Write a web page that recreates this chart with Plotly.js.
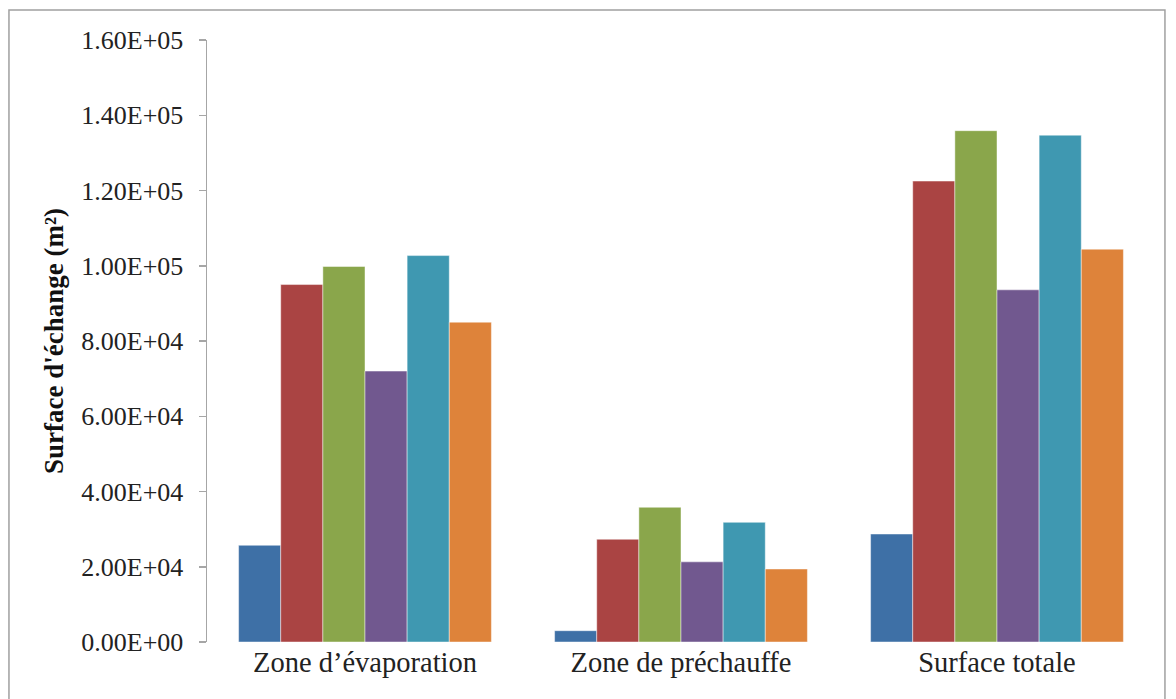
<!DOCTYPE html>
<html>
<head>
<meta charset="utf-8">
<script src="https://cdn.plot.ly/plotly-3.0.1.min.js"></script>
<style>html,body{margin:0;padding:0;background:#fff;}#chart{width:1176px;height:699px;}</style>
</head>
<body>
<div id="chart"></div>
<script>
const categories = ["Zone d\u2019évaporation", "Zone de préchauffe", "Surface totale"];
const seriesNames = ["Série 1", "Série 2", "Série 3", "Série 4", "Série 5", "Série 6"];
const s1 = [25700, 3000, 28700];
const s2 = [95000, 27300, 122500];
const s3 = [99800, 35800, 135900];
const s4 = [72000, 21300, 93600];
const s5 = [102700, 31800, 134700];
const s6 = [85000, 19400, 104400];
const tickVals = [0, 20000, 40000, 60000, 80000, 100000, 120000, 140000, 160000];
const tickText = ["0.00E+00", "2.00E+04", "4.00E+04", "6.00E+04", "8.00E+04", "1.00E+05", "1.20E+05", "1.40E+05", "1.60E+05"];
const colors = ["#3E70A6", "#AA4443", "#8AA64B", "#71588F", "#3F98B1", "#DE833A"];

const allSeries = [s1, s2, s3, s4, s5, s6];
const traces = allSeries.map((vals, i) => ({
  type: "bar",
  name: seriesNames[i],
  x: categories,
  y: vals,
  marker: {color: colors[i], line: {color: "rgba(255,255,255,0.45)", width: 1}},
  showlegend: false,
  hoverinfo: "y"
}));

const serif = "'Liberation Serif', 'Times New Roman', serif";
const layout = {
  width: 1176, height: 699,
  margin: {l: 207, r: 21, t: 40, b: 57},
  paper_bgcolor: "#fff", plot_bgcolor: "#fff",
  barmode: "group", bargap: 0.2, bargroupgap: 0,
  xaxis: {
    type: "category",
    showline: false, showgrid: false, zeroline: false, ticks: "",
    tickfont: {family: serif, size: 28.5, color: "#222"}
  },
  yaxis: {
    range: [0, 160000],
    tickvals: tickVals, ticktext: tickText,
    showgrid: false, zeroline: false,
    showline: true, linecolor: "#A6A6A6", linewidth: 1.5,
    ticks: "outside", ticklen: 7, tickcolor: "#A6A6A6", tickwidth: 1.5,
    ticklabelstandoff: 10,
    tickfont: {family: serif, size: 26, color: "#222"},
    title: {text: "<b>Surface d'échange (m²)</b>", font: {family: serif, size: 27, color: "#111"}, standoff: 10}
  },
  shapes: [{
    type: "rect", xref: "paper", yref: "paper",
    x0: -0.2089, x1: 1.0105, y0: -0.3, y1: 1.0497,
    line: {color: "#A0A0A0", width: 1.5}, fillcolor: "rgba(0,0,0,0)", layer: "below"
  }]
};

Plotly.newPlot("chart", traces, layout, {displayModeBar: false, staticPlot: true});
</script>
</body>
</html>
